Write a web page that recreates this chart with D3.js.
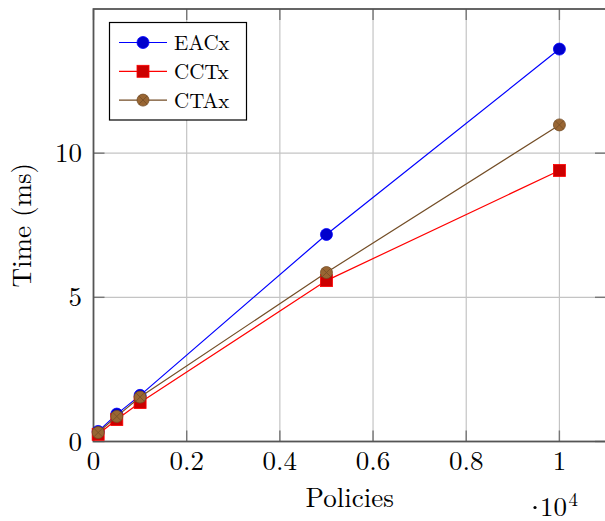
<!DOCTYPE html>
<head>
  <meta charset="utf-8">
  <script src="https://d3js.org/d3.v7.min.js"></script>
  <style>
    body { margin: 0; background: white; }
    svg { display: block; }
  </style>
</head>
<body>
  <div class="chart"></div>
  <script>
    // data (x in policies, y in ms)
    const policies = [100, 500, 1000, 5000, 10000];
    const eacx = [0.35, 0.95, 1.6, 7.18, 13.61];
    const cctx = [0.25, 0.76, 1.35, 5.58, 9.4];
    const ctax = [0.31, 0.87, 1.54, 5.86, 10.98];
    const xTicks = [0, 2000, 4000, 6000, 8000, 10000];
    const yTicks = [0, 5, 10];

    const fullWidth = 605, fullHeight = 521;
    const plotLeft = 93.5, plotRight = 606, plotTop = 9, plotBottom = 441.5;
    const font = '"Latin Modern Roman", "Liberation Serif", serif';

    const series = [
      { name: 'EACx', values: eacx, line: '#0000ff', fill: '#0000cc', mark: 'circle' },
      { name: 'CCTx', values: cctx, line: '#ff0000', fill: '#cc0000', mark: 'square' },
      { name: 'CTAx', values: ctax, line: '#734d26', fill: '#996633', mark: 'otimes' }
    ];

    const svg = d3.select('.chart')
      .append('svg')
        .attr('width', fullWidth)
        .attr('height', fullHeight)
        .style('font-family', font);

    const x = d3.scaleLinear().domain([0, 11000]).range([plotLeft, plotRight]);
    const y = d3.scaleLinear().domain([0, 15]).range([plotBottom, plotTop]);

    // grid
    svg.append('g')
      .selectAll('line')
      .data(xTicks.slice(1))
      .enter().append('line')
        .attr('x1', d => x(d)).attr('x2', d => x(d))
        .attr('y1', plotTop).attr('y2', plotBottom)
        .attr('stroke', '#c4c4c4').attr('stroke-width', 1.2);
    svg.append('g')
      .selectAll('line')
      .data(yTicks.slice(1))
      .enter().append('line')
        .attr('x1', plotLeft).attr('x2', plotRight)
        .attr('y1', d => y(d)).attr('y2', d => y(d))
        .attr('stroke', '#c4c4c4').attr('stroke-width', 1.2);

    // inner ticks on all four sides
    const tickLen = 11;
    const tickColor = '#777';
    xTicks.forEach(d => {
      svg.append('line').attr('x1', x(d)).attr('x2', x(d))
        .attr('y1', plotBottom).attr('y2', plotBottom - tickLen)
        .attr('stroke', tickColor).attr('stroke-width', 1.4);
      svg.append('line').attr('x1', x(d)).attr('x2', x(d))
        .attr('y1', plotTop).attr('y2', plotTop + tickLen)
        .attr('stroke', tickColor).attr('stroke-width', 1.4);
    });
    yTicks.forEach(d => {
      svg.append('line').attr('x1', plotLeft).attr('x2', plotLeft + tickLen)
        .attr('y1', y(d)).attr('y2', y(d))
        .attr('stroke', tickColor).attr('stroke-width', 1.4);
      svg.append('line').attr('x1', plotRight).attr('x2', plotRight - tickLen)
        .attr('y1', y(d)).attr('y2', y(d))
        .attr('stroke', tickColor).attr('stroke-width', 1.4);
    });

    // axis frame
    svg.append('rect')
      .attr('x', plotLeft).attr('y', plotTop)
      .attr('width', plotRight - plotLeft).attr('height', plotBottom - plotTop)
      .attr('fill', 'none').attr('stroke', '#555').attr('stroke-width', 1.8);

    // tick labels
    svg.append('g')
      .selectAll('text')
      .data(xTicks)
      .enter().append('text')
        .attr('x', d => x(d))
        .attr('y', 470)
        .attr('text-anchor', 'middle')
        .style('font-size', '27px')
        .text(d => d3.format('~g')(d / 1e4));
    svg.append('g')
      .selectAll('text')
      .data(yTicks)
      .enter().append('text')
        .attr('x', 82)
        .attr('y', d => y(d) + 9)
        .attr('text-anchor', 'end')
        .style('font-size', '27px')
        .text(d => d);

    // scale factor label (·10^4)
    svg.append('circle').attr('cx', 535).attr('cy', 507.5).attr('r', 1.6).attr('fill', '#000');
    svg.append('text').style('font-size', '27px')
      .attr('x', 540).attr('y', 516).text('10');
    svg.append('text').style('font-size', '19px')
      .attr('x', 568.5).attr('y', 506).text('4');

    // axis titles
    svg.append('text')
      .attr('x', (plotLeft + plotRight) / 2).attr('y', 507)
      .attr('text-anchor', 'middle')
      .style('font-size', '27px')
      .text('Policies');
    svg.append('text')
      .attr('transform', `translate(31, ${(plotTop + plotBottom) / 2}) rotate(-90)`)
      .attr('text-anchor', 'middle')
      .style('font-size', '27px')
      .text('Time (ms)');

    function drawMark(g, s, cx, cy) {
      const r = 6;
      if (s.mark === 'circle') {
        g.append('circle').attr('cx', cx).attr('cy', cy).attr('r', r)
          .attr('fill', s.fill).attr('stroke', s.line).attr('stroke-width', 0.8);
      } else if (s.mark === 'square') {
        g.append('rect').attr('x', cx - r).attr('y', cy - r)
          .attr('width', 2 * r).attr('height', 2 * r)
          .attr('fill', s.fill).attr('stroke', s.line).attr('stroke-width', 0.8);
      } else {
        g.append('circle').attr('cx', cx).attr('cy', cy).attr('r', r)
          .attr('fill', s.fill).attr('stroke', s.line).attr('stroke-width', 0.8);
        const k = r * Math.SQRT1_2;
        g.append('path')
          .attr('d', `M${cx - k},${cy - k}L${cx + k},${cy + k}M${cx - k},${cy + k}L${cx + k},${cy - k}`)
          .attr('stroke', s.line).attr('stroke-width', 0.8);
      }
    }

    const line = d3.line().x(d => x(d[0])).y(d => y(d[1]));

    series.forEach(s => {
      const pts = policies.map((p, i) => [p, s.values[i]]);
      const g = svg.append('g');
      g.append('path').datum(pts)
        .attr('d', line)
        .attr('fill', 'none')
        .attr('stroke', s.line)
        .attr('stroke-width', 1.2);
      pts.forEach(p => drawMark(g, s, x(p[0]), y(p[1])));
    });

    // legend
    const legend = svg.append('g');
    legend.append('rect')
      .attr('x', 109.5).attr('y', 22.5)
      .attr('width', 137).attr('height', 97.5)
      .attr('fill', 'white').attr('stroke', '#000').attr('stroke-width', 1.2);
    series.forEach((s, i) => {
      const ly = 42.5 + i * 28.8;
      legend.append('line')
        .attr('x1', 119).attr('x2', 167)
        .attr('y1', ly).attr('y2', ly)
        .attr('stroke', s.line).attr('stroke-width', 1.2);
      drawMark(legend, s, 143, ly);
      legend.append('text')
        .attr('x', 174).attr('y', ly + 7.5)
        .style('font-size', '21px')
        .text(s.name);
    });
  </script>
</body>
